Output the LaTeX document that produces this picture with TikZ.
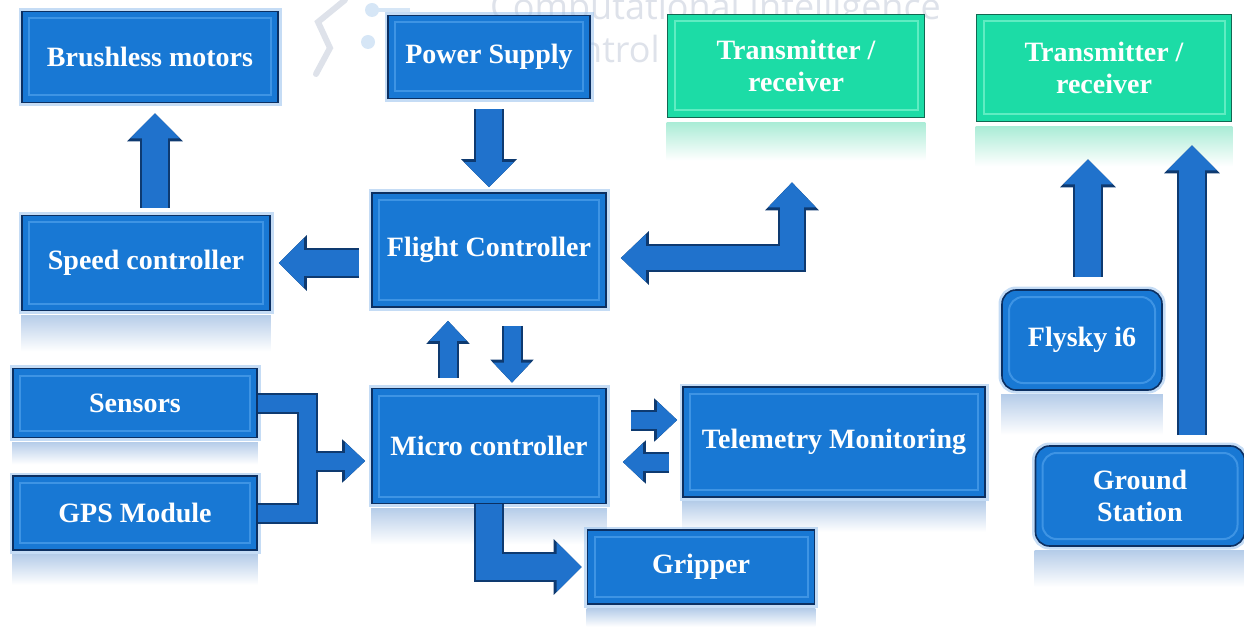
\documentclass[tikz,border=0pt]{standalone}
\usepackage{fontspec}
\setmainfont{Liberation Serif}
\setsansfont{Open Sans}
\usetikzlibrary{arrows.meta,calc}
\pgfdeclarelayer{background}
\pgfsetlayers{background,main}
\definecolor{boxblue}{RGB}{24,120,212}
\definecolor{boxdark}{RGB}{12,48,98}
\definecolor{boxline}{RGB}{62,148,228}
\definecolor{glowblue}{RGB}{150,192,236}
\definecolor{mint}{RGB}{28,220,166}
\definecolor{mintline}{RGB}{96,236,194}
\definecolor{mintdark}{RGB}{18,104,82}
\definecolor{arrowblue}{RGB}{32,114,204}
\definecolor{arrowdark}{RGB}{14,58,112}
\definecolor{reflblue}{RGB}{182,205,233}
\definecolor{reflmint}{RGB}{170,236,214}
\definecolor{wmgray}{RGB}{222,226,234}
\definecolor{wmblue}{RGB}{214,230,246}

\begin{document}
\begin{tikzpicture}[x=1pt,y=-1pt,line join=miter,
                    font=\bfseries\fontsize{28}{32}\selectfont]
  \tikzstyle{box}=[rectangle,line width=1.6pt,text=white,align=center,inner sep=0pt]
  \tikzstyle{block}=[box,fill=boxblue,draw=boxdark,
     preaction={draw=glowblue,line width=7pt,opacity=.55},
     path picture={\draw[boxline,line width=2pt]
       ([shift={(7pt,7pt)}]path picture bounding box.south west) rectangle
       ([shift={(-7pt,-7pt)}]path picture bounding box.north east);}]
  \tikzstyle{roundblock}=[block,rounded corners=14pt]
  \tikzstyle{tx}=[box,fill=mint,draw=mintdark,
     path picture={\draw[mintline,line width=2pt]
       ([shift={(7pt,7pt)}]path picture bounding box.south west) rectangle
       ([shift={(-7pt,-7pt)}]path picture bounding box.north east);}]
  \tikzstyle{fat}=[line width=26pt,draw=arrowblue,-{Triangle[width=48pt,length=25pt]},
     preaction={draw=arrowdark,line width=30pt,-{Triangle[width=54pt,length=28pt]}}]
  \tikzstyle{fatboth}=[line width=24pt,draw=arrowblue,
     {Triangle[width=46pt,length=25pt]}-{Triangle[width=46pt,length=25pt]},
     preaction={draw=arrowdark,line width=28pt,
       {Triangle[width=52pt,length=28pt]}-{Triangle[width=52pt,length=28pt]}}]
  \tikzstyle{slim}=[line width=17pt,draw=arrowblue,-{Triangle[width=36pt,length=20pt]},
     preaction={draw=arrowdark,line width=21pt,-{Triangle[width=42pt,length=23pt]}}]
  \tikzstyle{bar}=[line width=17pt,draw=arrowblue,
     preaction={draw=arrowdark,line width=21pt}]
  \tikzstyle{wm}=[text=wmgray,font=\sffamily\fontsize{36}{40}\selectfont,inner sep=0pt]

  \useasboundingbox (0,0) rectangle (1244,628);

  % watermark
  \draw[wmgray,line width=6pt,line cap=round] (345,0) -- (318,22) -- (330,48) -- (316,74);
  \fill[wmblue] (372,10) circle (7pt) (368,42) circle (7pt);
  \draw[wmblue,line width=4pt] (372,10) -- (410,10);
  \node[wm,anchor=base west] (WMA) at (490,20) {Computational Intelligence};
  \node[wm,anchor=base east] (WMB) at (660,63) {Control};

  % blocks
  \node[block,minimum width=256pt,minimum height=91pt]  (BM)  at (150,57)  {Brushless motors};
  \node[block,minimum width=202pt,minimum height=83pt]  (PS)  at (489,57)  {Power Supply};
  \node[tx,minimum width=257pt,minimum height=103pt]    (TX1) at (796,66)  {Transmitter /\\receiver};
  \node[tx,minimum width=255pt,minimum height=107pt]    (TX2) at (1104,68) {Transmitter /\\receiver};
  \node[block,minimum width=248pt,minimum height=95pt]  (SC)  at (146,263) {Speed controller};
  \node[block,minimum width=234pt,minimum height=114pt] (FC)  at (489,250) {Flight Controller};
  \node[block,minimum width=244pt,minimum height=69pt]  (SN)  at (135,403) {Sensors};
  \node[block,minimum width=244pt,minimum height=74pt]  (GPS) at (135,513) {GPS Module};
  \node[block,minimum width=234pt,minimum height=115pt] (MC)  at (489,446) {Micro controller};
  \node[block,minimum width=302pt,minimum height=110pt] (TM)  at (834,442) {Telemetry Monitoring};
  \node[block,minimum width=227pt,minimum height=74pt]  (GR)  at (701,567) {Gripper};
  \node[roundblock,minimum width=160pt,minimum height=100pt] (FS) at (1082,340) {Flysky i6};
  \node[roundblock,minimum width=209pt,minimum height=100pt] (GS) at (1140,496) {Ground\\Station};

  % reflections
  \begin{pgfonlayer}{background}
    \foreach \n/\h in {SC/40,SN/26,GPS/34,MC/40,TM/34,GR/22,FS/44,GS/40}
      \shade[top color=reflblue,bottom color=white]
        ([yshift=-4pt]\n.south west) rectangle ([yshift=-\h pt]\n.south east);
    \foreach \n/\h in {TX1/42,TX2/44}
      \shade[top color=reflmint,bottom color=white]
        ([yshift=-4pt]\n.south west) rectangle ([yshift=-\h pt]\n.south east);
  \end{pgfonlayer}

  % connectors
  \coordinate (J) at (307,461);
  \draw[fat,shorten <=7pt,shorten >=10pt] ([xshift=5pt]BM.south |- SC.north) -- ([xshift=5pt]BM.south);
  \draw[fat,shorten <=10pt,shorten >=5pt] (PS.south) -- (PS.south |- FC.north);
  \draw[fat,shorten <=12pt,shorten >=8pt] (FC.west |- SC.east) -- (SC.east);
  \draw[fatboth,shorten <=14pt,shorten >=64pt] ([yshift=-8pt]FC.east) -| ([xshift=-4pt]TX1.south);
  \draw[slim,shorten <=10pt,shorten >=13pt] ([xshift=-41pt]MC.north) -- ([xshift=-41pt]FC.south);
  \draw[slim,shorten <=18pt,shorten >=5pt] ([xshift=23pt]FC.south) -- ([xshift=23pt]MC.north);
  \draw[bar] (SN.east) -| (J) |- (GPS.east);
  \draw[slim,shorten <=9pt,shorten >=6pt] (J) -- (J -| MC.west);
  \draw[slim,shorten <=24pt,shorten >=5pt] ([yshift=26pt]MC.east) -- ([yshift=26pt]MC.east -| TM.west);
  \draw[slim,shorten <=13pt,shorten >=16pt] ([yshift=-16pt]TM.west |- MC.east) -- ([yshift=-16pt]MC.east);
  \draw[fat,shorten >=5pt] (MC.south) |- (GR.west);
  \draw[fat,shorten <=12pt,shorten >=37pt] ([xshift=6pt]FS.north) -- ([xshift=6pt]FS.north |- TX2.south);
  \draw[fat,shorten <=10pt,shorten >=23pt] ([xshift=52pt]GS.north) -- ([xshift=52pt]GS.north |- TX2.south);
\end{tikzpicture}
\end{document}
